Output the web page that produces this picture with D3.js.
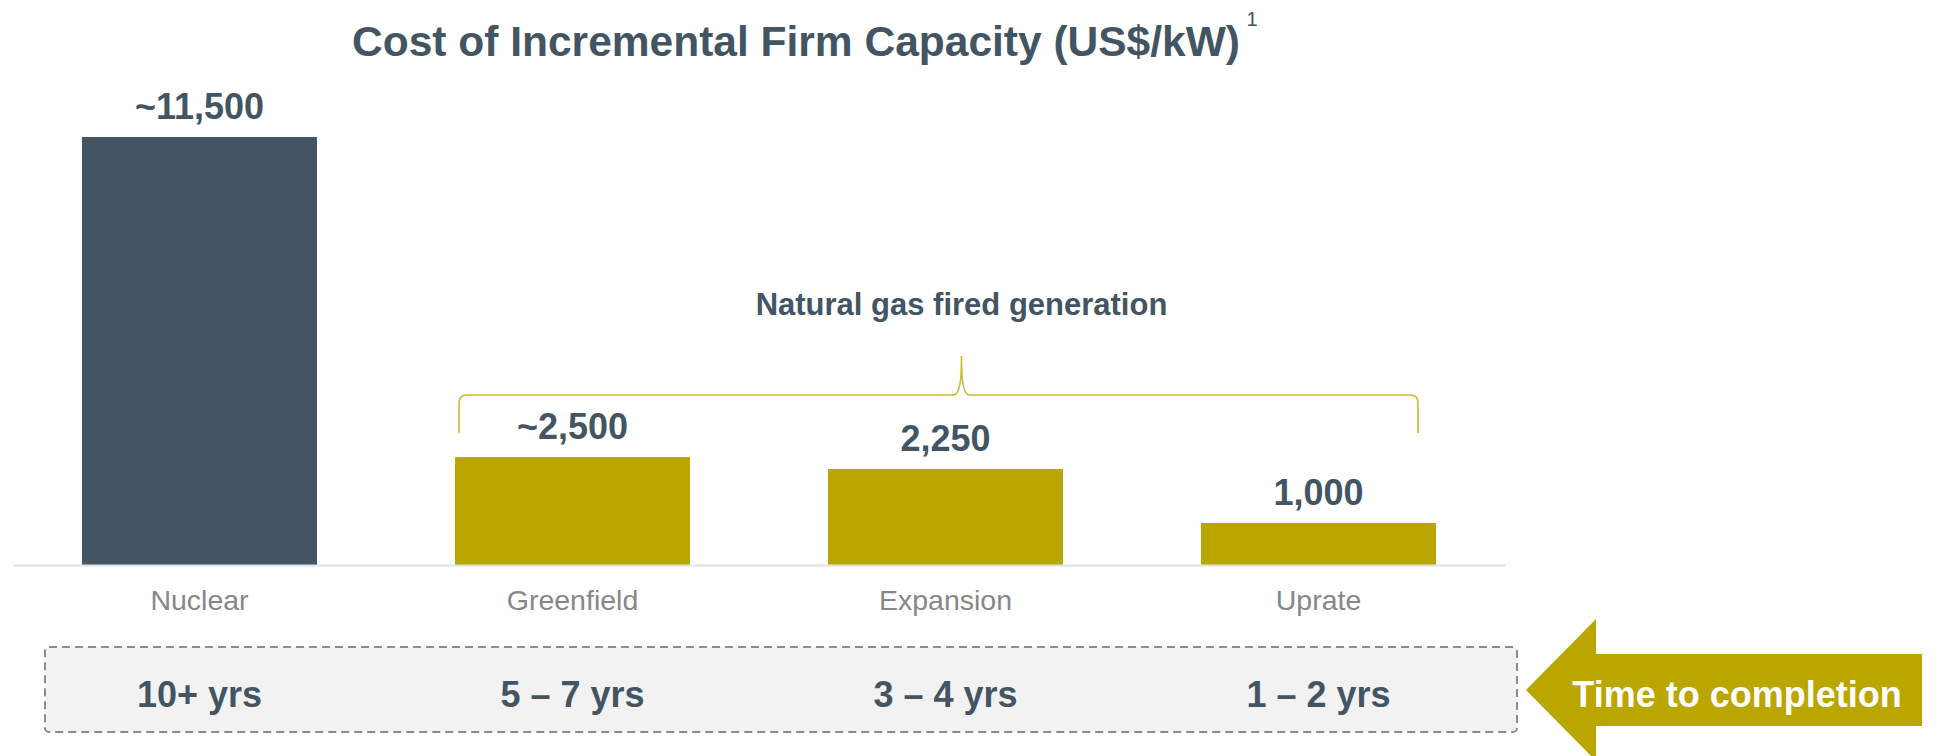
<!DOCTYPE html>
<html>
<head>
<meta charset="utf-8">
<script src="https://cdn.jsdelivr.net/npm/d3@7"></script>
<style>
  body { margin: 0; background: #fff; }
  text { font-family: "Liberation Sans", Arial, sans-serif; }
</style>
</head>
<body>
<div id="chart"></div>
<script>
// data
var categories = ["Nuclear", "Greenfield", "Expansion", "Uprate"];
var costValues = [11500, 2900, 2580, 1130];   // bar heights as drawn
var costLabels = ["~11,500", "~2,500", "2,250", "1,000"];
var groups = ["Nuclear", "Gas", "Gas", "Gas"];
var completionTimes = ["10+ yrs", "5 \u2013 7 yrs", "3 \u2013 4 yrs", "1 \u2013 2 yrs"];
var gasGroupLabel = "Natural gas fired generation";
var titleText = "Cost of Incremental Firm Capacity (US$/kW)";

var width = 1938,
    height = 756,
    baseY = 565,
    topY = 137,
    slate = "#435562",
    gold = "#bba600";

var data = categories.map(function (c, i) {
    return { cat: c, value: costValues[i], label: costLabels[i], group: groups[i], time: completionTimes[i] };
});

var svg = d3.select("#chart")
    .append("svg")
    .attr("width", width)
    .attr("height", height);

// scales
var x = d3.scaleBand()
    .domain(categories)
    .range([13, 1505])
    .paddingInner(0.37)
    .paddingOuter(0.185);

var y = d3.scaleLinear()
    .domain([0, d3.max(costValues)])
    .range([baseY, topY]);

var color = d3.scaleOrdinal()
    .domain(["Nuclear", "Gas"])
    .range([slate, gold]);

// title
svg.append("text")
    .attr("x", 796)
    .attr("y", 56)
    .attr("text-anchor", "middle")
    .style("font-size", "42.5px")
    .style("font-weight", "bold")
    .style("fill", slate)
    .text(titleText);

svg.append("text")
    .attr("x", 1252)
    .attr("y", 26)
    .attr("text-anchor", "middle")
    .style("font-size", "20px")
    .style("fill", slate)
    .text("1");

// bars
svg.selectAll(".bar")
    .data(data)
    .enter()
    .append("rect")
    .attr("class", "bar")
    .attr("x", d => x(d.cat))
    .attr("y", d => y(d.value))
    .attr("width", x.bandwidth())
    .attr("height", d => baseY - y(d.value))
    .attr("fill", d => color(d.group));

// value labels
svg.selectAll(".bartext")
    .data(data)
    .enter()
    .append("text")
    .attr("class", "bartext")
    .attr("x", d => x(d.cat) + x.bandwidth() / 2)
    .attr("y", d => y(d.value) - 18)
    .attr("text-anchor", "middle")
    .style("font-size", "36px")
    .style("font-weight", "bold")
    .style("fill", slate)
    .text(d => d.label);

// x axis
var xAxis = d3.axisBottom(x).tickSize(0).tickPadding(0);
var gx = svg.append("g")
    .attr("class", "x-axis")
    .attr("transform", "translate(0," + baseY + ")")
    .call(xAxis);
gx.select(".domain")
    .attr("stroke", "#dde3e8")
    .attr("stroke-width", 2);
gx.selectAll(".tick text")
    .attr("y", 45)
    .attr("dy", 0)
    .style("font-family", "'Liberation Sans', Arial, sans-serif")
    .style("font-size", "28.5px")
    .style("fill", "#878787");

// gas bracket
var gasCats = categories.filter((c, i) => groups[i] === "Gas");
var bL = x(gasCats[0]) + 4,
    bR = x(gasCats[gasCats.length - 1]) + x.bandwidth() - 18,
    bMid = x(gasCats[1]) + x.bandwidth() / 2 + 16,
    bY = 395,
    bEnd = 433,
    bTip = 356,
    c = 8;

var brace = d3.path();
brace.moveTo(bL, bEnd);
brace.lineTo(bL, bY + c);
brace.quadraticCurveTo(bL, bY, bL + c, bY);
brace.lineTo(bMid - c, bY);
brace.quadraticCurveTo(bMid, bY, bMid, bTip + 4);
brace.lineTo(bMid, bTip);
brace.moveTo(bMid, bTip + 4);
brace.quadraticCurveTo(bMid, bY, bMid + c, bY);
brace.lineTo(bR - c, bY);
brace.quadraticCurveTo(bR, bY, bR, bY + c);
brace.lineTo(bR, bEnd);

svg.append("path")
    .attr("d", brace.toString())
    .attr("fill", "none")
    .attr("stroke", "#c9b834")
    .attr("stroke-width", 1.6);

svg.append("text")
    .attr("x", bMid)
    .attr("y", 315)
    .attr("text-anchor", "middle")
    .style("font-size", "31px")
    .style("font-weight", "bold")
    .style("fill", slate)
    .text(gasGroupLabel);

// completion time box
svg.append("rect")
    .attr("x", 45)
    .attr("y", 647)
    .attr("width", 1472)
    .attr("height", 85)
    .attr("rx", 4)
    .attr("fill", "#f2f2f2")
    .attr("stroke", "#8c8c8c")
    .attr("stroke-width", 2)
    .attr("stroke-dasharray", "8,5");

svg.selectAll(".timetext")
    .data(data)
    .enter()
    .append("text")
    .attr("class", "timetext")
    .attr("x", d => x(d.cat) + x.bandwidth() / 2)
    .attr("y", 707)
    .attr("text-anchor", "middle")
    .style("font-size", "36px")
    .style("font-weight", "bold")
    .style("fill", slate)
    .text(d => d.time);

// arrow
var aTip = 1526, aHead = 1596, aEnd = 1922, aMidY = 690, aBody = 36, aHalf = 71;
svg.append("path")
    .attr("d", "M" + aTip + "," + aMidY +
        "L" + aHead + "," + (aMidY - aHalf) +
        "L" + aHead + "," + (aMidY - aBody) +
        "L" + aEnd + "," + (aMidY - aBody) +
        "L" + aEnd + "," + (aMidY + aBody) +
        "L" + aHead + "," + (aMidY + aBody) +
        "L" + aHead + "," + (aMidY + aHalf) + "Z")
    .attr("fill", gold);

svg.append("text")
    .attr("x", 1737)
    .attr("y", 707)
    .attr("text-anchor", "middle")
    .style("font-size", "36px")
    .style("font-weight", "bold")
    .style("fill", "#fff")
    .text("Time to completion");
</script>
</body>
</html>
